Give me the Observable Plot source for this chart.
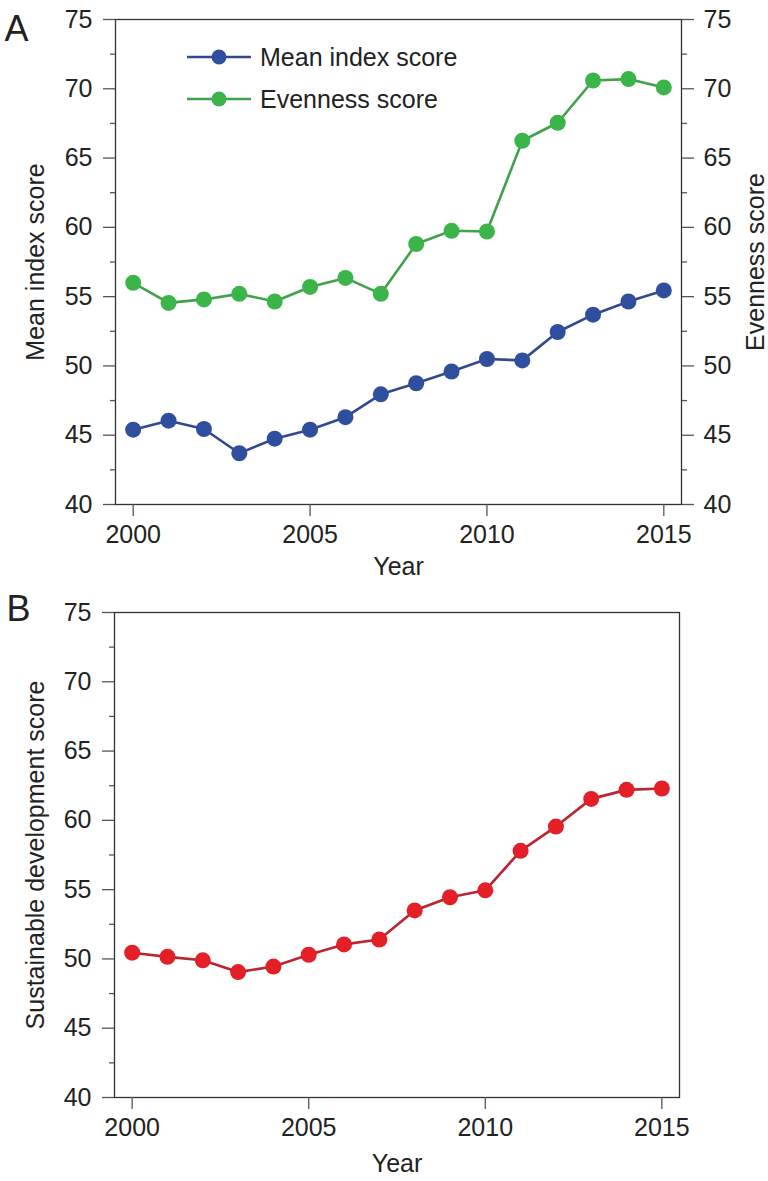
<!DOCTYPE html>
<html>
<head>
<meta charset="utf-8">
<script src="https://cdn.jsdelivr.net/npm/d3@7"></script>
<script src="https://cdn.jsdelivr.net/npm/@observablehq/plot@0.6"></script>
<style>
  html, body { margin: 0; padding: 0; background: #fff; }
  #wrap { position: relative; width: 768px; height: 1181px; overflow: hidden; }
  #panelA { position: absolute; left: 0; top: 0; }
  #panelB { position: absolute; left: 0; top: 590px; }
  #legend { position: absolute; left: 0; top: 0; }
</style>
</head>
<body>
<div id="wrap">
  <div id="panelA"></div>
  <div id="panelB"></div>
  <div id="legend"></div>
</div>
<script>
// ---- Data ----
const years = [2000, 2001, 2002, 2003, 2004, 2005, 2006, 2007, 2008, 2009, 2010, 2011, 2012, 2013, 2014, 2015];
const meanIndex = [45.4, 46.05, 45.45, 43.7, 44.75, 45.4, 46.3, 47.95, 48.75, 49.6, 50.5, 50.4, 52.45, 53.7, 54.65, 55.45];
const evenness = [56.0, 54.55, 54.8, 55.2, 54.65, 55.7, 56.35, 55.2, 58.8, 59.75, 59.7, 66.25, 67.55, 70.6, 70.7, 70.1];
const sustainable = [50.45, 50.15, 49.9, 49.05, 49.45, 50.3, 51.05, 51.4, 53.5, 54.45, 54.95, 57.8, 59.55, 61.55, 62.2, 62.3];
const yMajor = [40, 45, 50, 55, 60, 65, 70, 75];
const yMinor = [42.5, 47.5, 52.5, 57.5, 62.5, 67.5, 72.5];
const xTicks = [2000, 2005, 2010, 2015];
const seriesNames = ["Mean index score", "Evenness score"];
const colors = { blue: "#2f4f9e", blueLine: "#33498f", green: "#3bb44a", greenLine: "#43a04b", red: "#e41f27", redLine: "#b82533" };

const font = "Liberation Sans, Arial, Helvetica, sans-serif";
const axisColor = "#555";
const textColor = "#222";

const rowsA1 = years.map((y, i) => ({ year: y, value: meanIndex[i] }));
const rowsA2 = years.map((y, i) => ({ year: y, value: evenness[i] }));
const rowsB = years.map((y, i) => ({ year: y, value: sustainable[i] }));

function commonAxes(withRight) {
  const marks = [
    Plot.axisY({ anchor: "left", ticks: yMajor, tickSize: 12, tickPadding: 11, label: null, stroke: axisColor, fill: textColor, fontSize: 25, strokeWidth: 1.3 }),
    Plot.axisY({ anchor: "left", ticks: yMinor, tickSize: 5, tickFormat: () => "", label: null, stroke: axisColor, strokeWidth: 1.3 }),
    Plot.axisX({ anchor: "bottom", ticks: xTicks, tickSize: 12, tickPadding: 9, tickFormat: d => String(d), label: null, stroke: axisColor, fill: textColor, fontSize: 25, strokeWidth: 1.3 })
  ];
  if (withRight) {
    marks.push(
      Plot.axisY({ anchor: "right", ticks: yMajor, tickSize: 12, tickPadding: 10, label: null, stroke: axisColor, fill: textColor, fontSize: 25, strokeWidth: 1.3 }),
      Plot.axisY({ anchor: "right", ticks: yMinor, tickSize: 5, tickFormat: () => "", label: null, stroke: axisColor, strokeWidth: 1.3 })
    );
  }
  return marks;
}

const baseStyle = { fontFamily: font, fontSize: "25px", color: textColor, background: "#fff", overflow: "visible" };

// ---- Panel A ----
const plotA = Plot.plot({
  width: 768, height: 590,
  marginLeft: 115, marginRight: 87, marginTop: 19, marginBottom: 86,
  x: { domain: [1999.5, 2015.5] },
  y: { domain: [40, 75] },
  style: baseStyle,
  marks: [
    Plot.frame({ stroke: "#333", strokeWidth: 1.3 }),
    ...commonAxes(true),
    Plot.line(rowsA2, { x: "year", y: "value", stroke: colors.greenLine, strokeWidth: 2.6 }),
    Plot.dot(rowsA2, { x: "year", y: "value", r: 8, fill: colors.green }),
    Plot.line(rowsA1, { x: "year", y: "value", stroke: colors.blueLine, strokeWidth: 2.6 }),
    Plot.dot(rowsA1, { x: "year", y: "value", r: 8, fill: colors.blue }),
    Plot.text(["Mean index score"], { text: d => d, frameAnchor: "left", dx: -80, rotate: -90, textAnchor: "middle", lineAnchor: "middle", fontSize: 25, fill: textColor }),
    Plot.text(["Evenness score"], { text: d => d, frameAnchor: "right", dx: 74, rotate: -90, textAnchor: "middle", lineAnchor: "middle", fontSize: 25, fill: textColor }),
    Plot.text(["Year"], { text: d => d, frameAnchor: "bottom", dy: 62, textAnchor: "middle", lineAnchor: "middle", fontSize: 25, fill: textColor }),
    Plot.text(["A"], { text: d => d, frameAnchor: "top-left", dx: -111, dy: 21, textAnchor: "start", lineAnchor: "bottom", fontSize: 36, fill: textColor })
  ]
});
document.getElementById("panelA").appendChild(plotA);

// ---- Legend (panel A) ----
const legendSvg = d3.select("#legend").append("svg")
  .attr("width", 768).attr("height", 140)
  .style("overflow", "visible");
const legendItems = [
  { name: seriesNames[0], fill: colors.blue, stroke: colors.blueLine, y: 57 },
  { name: seriesNames[1], fill: colors.green, stroke: colors.greenLine, y: 99 }
];
const lg = legendSvg.selectAll("g").data(legendItems).join("g")
  .attr("transform", d => `translate(187,${d.y})`);
lg.append("line").attr("x1", 0).attr("x2", 64).attr("y1", 0).attr("y2", 0)
  .attr("stroke", d => d.stroke).attr("stroke-width", 2.6);
lg.append("circle").attr("cx", 32).attr("cy", 0).attr("r", 7.5).attr("fill", d => d.fill);
lg.append("text").attr("x", 73).attr("y", 0).attr("dy", "0.35em")
  .attr("font-family", font).attr("font-size", 25).attr("fill", textColor)
  .text(d => d.name);

// ---- Panel B ----
const plotB = Plot.plot({
  width: 768, height: 591,
  marginLeft: 114, marginRight: 89, marginTop: 22, marginBottom: 84,
  x: { domain: [1999.5, 2015.5] },
  y: { domain: [40, 75] },
  style: baseStyle,
  marks: [
    Plot.frame({ stroke: "#333", strokeWidth: 1.3 }),
    ...commonAxes(false),
    Plot.line(rowsB, { x: "year", y: "value", stroke: colors.redLine, strokeWidth: 2.6 }),
    Plot.dot(rowsB, { x: "year", y: "value", r: 8, fill: colors.red }),
    Plot.text(["Sustainable development score"], { text: d => d, frameAnchor: "left", dx: -79, rotate: -90, textAnchor: "middle", lineAnchor: "middle", fontSize: 25, fill: textColor }),
    Plot.text(["Year"], { text: d => d, frameAnchor: "bottom", dy: 66, textAnchor: "middle", lineAnchor: "middle", fontSize: 25, fill: textColor }),
    Plot.text(["B"], { text: d => d, frameAnchor: "top-left", dx: -108, dy: 8, textAnchor: "start", lineAnchor: "bottom", fontSize: 36, fill: textColor })
  ]
});
document.getElementById("panelB").appendChild(plotB);
</script>
</body>
</html>
